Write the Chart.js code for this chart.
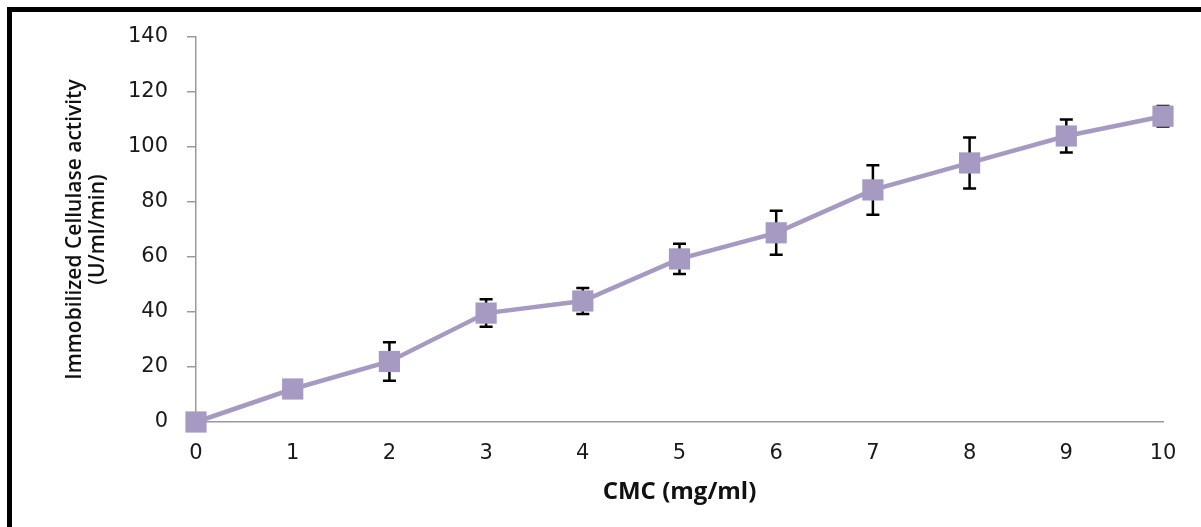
<!DOCTYPE html>
<html>
<head>
<meta charset="utf-8">
<script src="https://cdn.jsdelivr.net/npm/chart.js@4/dist/chart.umd.min.js"></script>
<style>
  html, body { margin: 0; padding: 0; background: #fff; }
  #wrap { position: relative; width: 1201px; height: 527px; overflow: hidden; background: #fff; }
  #frame { position: absolute; left: 7px; top: 7px; width: 1300px; height: 600px;
           border-top: 5px solid #000; border-left: 5px solid #000; pointer-events: none; }
  canvas { position: absolute; left: 0; top: 0; }
</style>
</head>
<body>
<div id="wrap">
  <canvas id="c" width="1201" height="527"></canvas>
  <div id="frame"></div>
</div>
<script>
// ---- data ----
const cmc = [0, 1, 2, 3, 4, 5, 6, 7, 8, 9, 10];
const activity = [0, 12, 22, 39.6, 44, 59.3, 68.8, 84.4, 94.2, 104, 111.2];
const errors = [0, 0, 7, 5, 4.7, 5.5, 8, 9, 9.3, 6, 3.7];
const yTicks = [0, 20, 40, 60, 80, 100, 120, 140];
const xTitle = 'CMC (mg/ml)';
const yTitle = ['Immobilized Cellulase activity', '(U/ml/min)'];

const purple = '#A69AC2';

const errorBarPlugin = {
  id: 'errorBars',
  beforeDatasetsDraw(chart) {
    const ctx = chart.ctx;
    const xs = chart.scales.x, ys = chart.scales.y;
    ctx.save();
    ctx.strokeStyle = '#000';
    ctx.lineWidth = 2.5;
    const cap = 6.5;
    cmc.forEach((xv, i) => {
      const e = errors[i];
      if (!e) return;
      const px = xs.getPixelForValue(xv);
      const top = ys.getPixelForValue(activity[i] + e);
      const bot = ys.getPixelForValue(activity[i] - e);
      ctx.beginPath();
      ctx.moveTo(px, top); ctx.lineTo(px, bot);
      ctx.moveTo(px - cap, top); ctx.lineTo(px + cap, top);
      ctx.moveTo(px - cap, bot); ctx.lineTo(px + cap, bot);
      ctx.stroke();
    });
    ctx.restore();
  }
};

new Chart(document.getElementById('c'), {
  type: 'scatter',
  data: {
    datasets: [{
      data: cmc.map((x, i) => ({ x: x, y: activity[i] })),
      showLine: true,
      borderColor: purple,
      borderWidth: 4.5,
      pointStyle: 'rect',
      pointRadius: 15,
      pointHoverRadius: 15,
      pointBackgroundColor: purple,
      pointBorderWidth: 0,
      tension: 0,
      clip: false
    }]
  },
  options: {
    responsive: false,
    animation: false,
    devicePixelRatio: 1,
    layout: { padding: { left: 0, right: 38, top: 37, bottom: 0 } },
    plugins: { legend: { display: false }, tooltip: { enabled: false } },
    scales: {
      x: {
        type: 'linear',
        min: 0, max: 10,
        afterFit(s) { s.height = 105; },
        afterBuildTicks(s) { s.ticks = cmc.map(v => ({ value: v })); },
        grid: { display: true, drawOnChartArea: false, drawTicks: false },
        border: { display: true, color: '#9a9a9a', width: 1.5 },
        ticks: { padding: 19, color: '#1a1a1a', font: { family: 'DejaVu Sans', size: 21 }, maxRotation: 0 },
        title: {
          display: true, text: xTitle, color: '#111',
          font: { family: 'Open Sans', size: 24, weight: 'bold', lineHeight: 1.15 },
          padding: { top: 0, bottom: 21 }
        }
      },
      y: {
        min: 0, max: 140,
        afterFit(s) { s.width = 196; },
        afterBuildTicks(s) { s.ticks = yTicks.map(v => ({ value: v })); },
        grid: { display: true, drawOnChartArea: false, drawTicks: true, tickLength: 9, color: '#9a9a9a', lineWidth: 1.5 },
        border: { display: true, color: '#9a9a9a', width: 1.5 },
        ticks: { padding: 19, color: '#1a1a1a', font: { family: 'DejaVu Sans', size: 21 } },
        title: {
          display: true, text: yTitle, color: '#111',
          font: { family: 'Open Sans', size: 21, weight: '600', lineHeight: 1.095 },
          padding: { top: 63.5, bottom: 0 }
        }
      }
    }
  },
  plugins: [errorBarPlugin]
});
</script>
</body>
</html>
